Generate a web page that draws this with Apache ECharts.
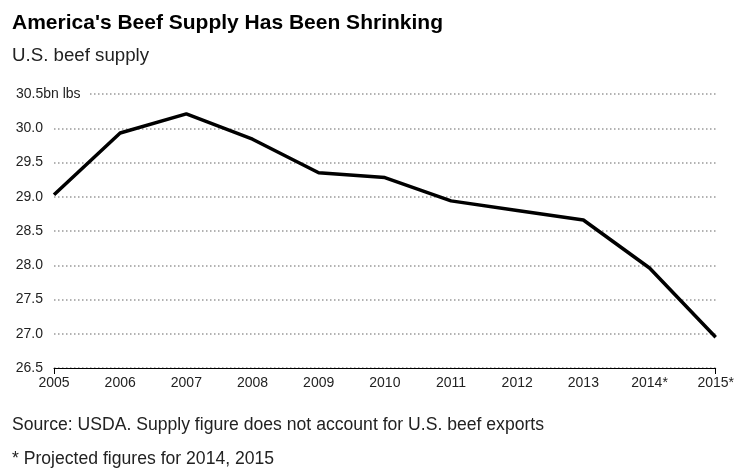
<!DOCTYPE html>
<html>
<head>
<meta charset="utf-8">
<script src="https://cdn.jsdelivr.net/npm/echarts@6/dist/echarts.min.js"></script>
<style>
html,body{margin:0;padding:0;background:#fff;}
#chart{width:737px;height:471px;}
</style>
</head>
<body>
<div id="chart"></div>
<script>
var years = ['2005','2006','2007','2008','2009','2010','2011','2012','2013','2014*','2015*'];
var supply = [29.03, 29.93, 30.21, 29.84, 29.35, 29.28, 28.94, 28.80, 28.66, 27.96, 26.95];
var yMin = 26.5, yMax = 30.5, yStep = 0.5;
var titleText = "America's Beef Supply Has Been Shrinking";
var subtitleText = 'U.S. beef supply';
var sourceText = 'Source: USDA. Supply figure does not account for U.S. beef exports';
var noteText = '* Projected figures for 2014, 2015';
var unitLabel = '30.5bn lbs';

var FONT = '"Liberation Sans", Arial, Helvetica, sans-serif';
var chart = echarts.init(document.getElementById('chart'), null, {renderer:'canvas'});
var option = {
  animation:false,
  backgroundColor:'#fff',
  textStyle:{fontFamily:FONT},
  grid:{left:54, right:17, top:94, bottom:103},
  xAxis:{
    type:'category', data:years, boundaryGap:false,
    axisLine:{show:true, lineStyle:{color:'#000', width:1}},
    axisTick:{show:true, length:6, lineStyle:{color:'#000'}, interval:function(i){return i===0||i===years.length-1;}},
    axisLabel:{color:'#222', fontSize:14, margin:8, fontFamily:FONT, interval:0},
    splitLine:{show:false}
  },
  yAxis:{
    type:'value', min:yMin, max:yMax, interval:yStep,
    axisLine:{show:false}, axisTick:{show:false},
    axisLabel:{color:'#222', fontSize:14, margin:11, fontFamily:FONT,
      formatter:function(v){ if (Math.abs(v-yMax)<1e-9) return ''; return v.toFixed(1);} },
    splitLine:{show:true, lineStyle:{color:'#999', width:1.5, type:[1.5,2.5]}}
  },
  series:[{
    type:'line', data:supply, symbol:'none',
    lineStyle:{color:'#000', width:3.5}, z:5
  }]
};
chart.setOption(option);
var topY = chart.convertToPixel({yAxisIndex:0}, yMax);
chart.setOption({
  graphic:[
    {type:'text', left:12, top:13, style:{text:titleText, font:'bold 21px '+FONT, fill:'#000'}},
    {type:'text', left:12, top:46, style:{text:subtitleText, font:'18.7px '+FONT, fill:'#222'}},
    {type:'rect', shape:{x:12, y:topY-9, width:78, height:18}, style:{fill:'#fff'}, z:10},
    {type:'text', x:16, y:topY, style:{text:unitLabel, font:'14px '+FONT, fill:'#222', verticalAlign:'middle', align:'left'}, z:11},
    {type:'text', left:12, top:416, style:{text:sourceText, font:'17.6px '+FONT, fill:'#222'}},
    {type:'text', left:12, top:450, style:{text:noteText, font:'17.6px '+FONT, fill:'#222'}}
  ]
});
</script>
</body>
</html>
